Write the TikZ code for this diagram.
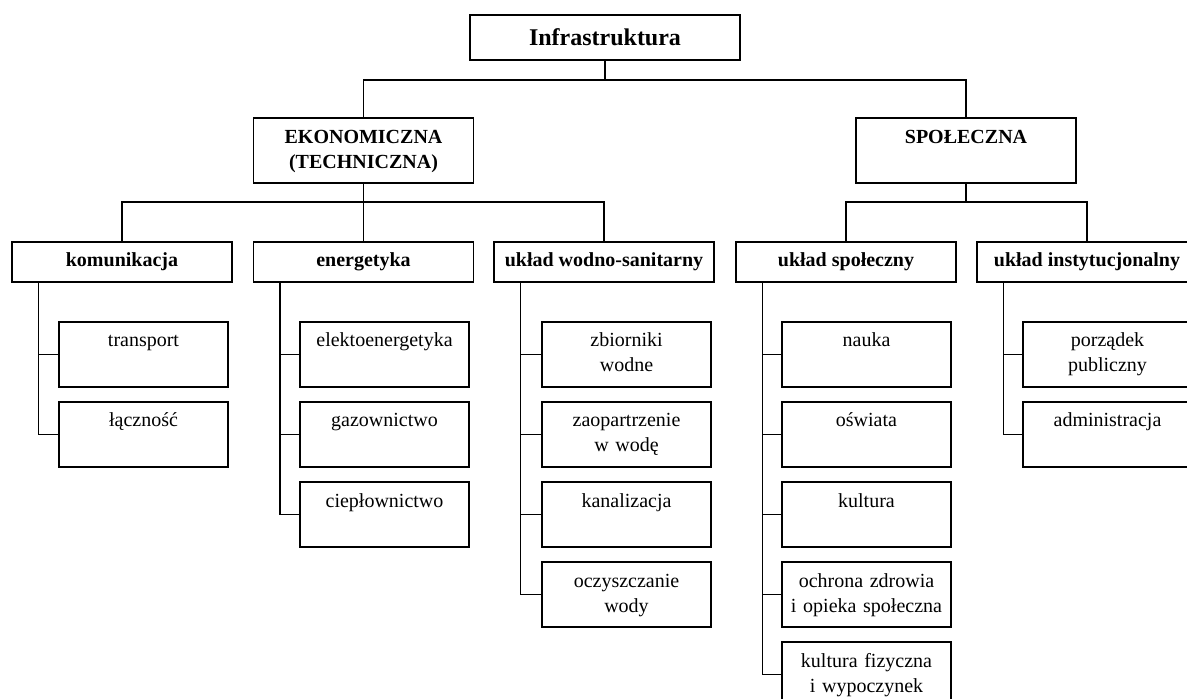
\documentclass[tikz,border=0pt]{standalone}
\usepackage{fontspec}
\setmainfont{Liberation Serif}
\usepackage{tikz}
\usetikzlibrary{positioning}

\tikzset{
    box/.style={draw, line width=0.75pt, inner sep=0pt, align=center, font=\fontsize{10}{12.5}\selectfont},
    topbox/.style={box, minimum width=135pt, minimum height=22.5pt, font=\fontsize{12}{14}\selectfont\bfseries},
    mainbox/.style={box, text width=110pt, text height=13pt, text depth=19.5pt, font=\fontsize{10}{12.5}\selectfont\bfseries},
    groupbox/.style={box, minimum width=110pt, minimum height=20pt, font=\fontsize{10}{12.5}\selectfont\bfseries},
    leafbox/.style={box, text width=84.5pt, text height=12.5pt, text depth=20pt},
    link/.style={line width=0.75pt},
}

\begin{document}
\begin{tikzpicture}[x=0.5pt, y=-0.5pt]
    \useasboundingbox (0,0) rectangle (1187,699);
    \clip (0,0) rectangle (1187,699);

    % 1. Korzen i dwa glowne dzialy
    \node[topbox] (infra) at (605,37.5) {Infrastruktura};
    \node[mainbox] (ekon) at (363.5,150.5) {EKONOMICZNA\\(TECHNICZNA)};
    \node[mainbox] (spol) at (966,150.5) {SPOŁECZNA};

    % 2. Grupy
    \node[groupbox] (komun) at (122,262) {komunikacja};
    \node[groupbox] (energ) at (363.5,262) {energetyka};
    \node[groupbox] (wodno) at (604,262) {układ wodno-sanitarny};
    \node[groupbox] (uspol) at (846,262) {układ społeczny};
    \node[groupbox] (uinst) at (1087,262) {układ instytucjonalny};

    % 3. Elementy (wiersze co 80)
    \node[leafbox] (transport) at (143.5,354.5) {transport};
    \node[leafbox] (lacznosc)  at (143.5,434.5) {łączność};

    \node[leafbox] (elektro) at (384.5,354.5) {elektoenergetyka};
    \node[leafbox] (gaz)     at (384.5,434.5) {gazownictwo};
    \node[leafbox] (cieplo)  at (384.5,514.5) {ciepłownictwo};

    \node[leafbox] (zbiorniki) at (626.5,354.5) {zbiorniki\\wodne};
    \node[leafbox] (zaop)      at (626.5,434.5) {zaopartrzenie\\w wodę};
    \node[leafbox] (kanal)     at (626.5,514.5) {kanalizacja};
    \node[leafbox] (oczysz)    at (626.5,594.5) {oczyszczanie\\wody};

    \node[leafbox] (nauka)   at (866.5,354.5) {nauka};
    \node[leafbox] (oswiata) at (866.5,434.5) {oświata};
    \node[leafbox] (kultura) at (866.5,514.5) {kultura};
    \node[leafbox] (zdrowie) at (866.5,594.5) {ochrona zdrowia\\i opieka społeczna};
    \node[leafbox] (wypocz)  at (866.5,674.5) {kultura fizyczna\\i wypoczynek};

    \node[leafbox] (porzadek) at (1107.5,354.5) {porządek\\publiczny};
    \node[leafbox] (admin)    at (1107.5,434.5) {administracja};

    % 4. Polaczenia
    \coordinate (bus0) at (605,80);
    \draw[link] (infra.south) -- (bus0);
    \draw[link] (bus0) -| (ekon.north);
    \draw[link] (bus0) -| (spol.north);

    \coordinate (bus1) at (363.5,202);
    \draw[link] (ekon.south) -- (energ.north);
    \draw[link] (bus1) -| (komun.north);
    \draw[link] (bus1) -| (wodno.north);

    \coordinate (bus2) at (966,202);
    \draw[link] (spol.south) -- (bus2);
    \draw[link] (bus2) -| (uspol.north);
    \draw[link] (bus2) -| (uinst.north);

    \foreach \grp/\leaf in {komun/transport, komun/lacznosc,
        energ/elektro, energ/gaz, energ/cieplo,
        wodno/zbiorniki, wodno/zaop, wodno/kanal, wodno/oczysz,
        uspol/nauka, uspol/oswiata, uspol/kultura, uspol/zdrowie, uspol/wypocz,
        uinst/porzadek, uinst/admin}
        \draw[link] ([xshift=13.5pt]\grp.south west) |- (\leaf.west);

\end{tikzpicture}
\end{document}
